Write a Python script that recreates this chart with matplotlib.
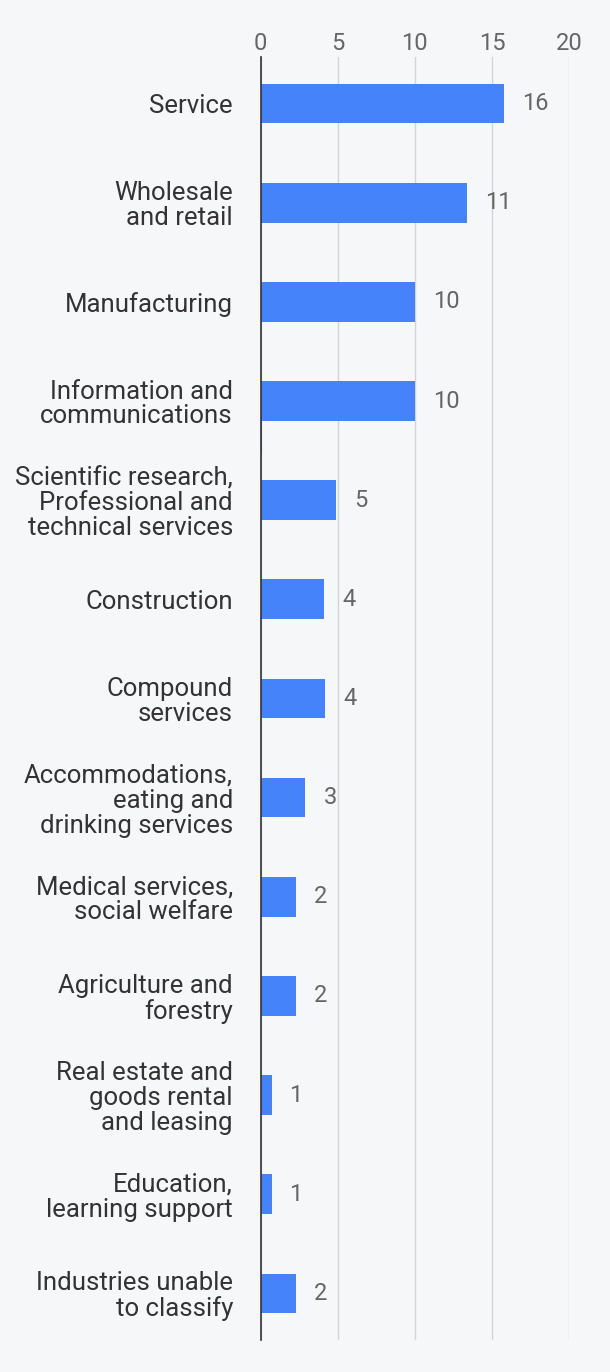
import matplotlib.pyplot as plt
import numpy as np

categories = [
    "Service",
    "Wholesale\nand retail",
    "Manufacturing",
    "Information and\ncommunications",
    "Scientific research,\nProfessional and\ntechnical services",
    "Construction",
    "Compound\nservices",
    "Accommodations,\neating and\ndrinking services",
    "Medical services,\nsocial welfare",
    "Agriculture and\nforestry",
    "Real estate and\ngoods rental\nand leasing",
    "Education,\nlearning support",
    "Industries unable\nto classify",
]
values = [15.8, 13.4, 10.0, 10.0, 4.9, 4.1, 4.2, 2.9, 2.3, 2.3, 0.7, 0.7, 2.3]
value_labels = ["16", "11", "10", "10", "5", "4", "4", "3", "2", "2", "1", "1", "2"]
# tiny sliver seen just below the "Information and communications" bar
extra = [0, 0, 0, 0.1, 0, 0, 0, 0, 0, 0, 0, 0, 0]
xticks = [0, 5, 10, 15, 20]

bg = "#f6f7f9"
blue = "#4583fb"
font = "Roboto"

fig = plt.figure(figsize=(6.1, 13.72), dpi=100, facecolor=bg)
ax = fig.add_axes([0.4274, 0.0233, 0.5054, 0.9352], facecolor=bg)

y = np.arange(len(categories))
bars = ax.barh(y, values, height=0.4, color=blue, zorder=3)
ax.barh(y + 0.36, extra, height=0.33, color=blue, zorder=3)

for rect, lab in zip(bars, value_labels):
    ax.annotate(lab, (rect.get_width(), rect.get_y() + rect.get_height() / 2),
                xytext=(13, 0), textcoords="offset points", va="center", ha="left",
                fontsize=17, color="#666666", family=font)

ax.set_xlim(0, 20)
ax.set_ylim(len(categories) - 0.53, -0.47)
ax.set_xticks(xticks)
ax.xaxis.tick_top()
ax.tick_params(axis="x", length=0, pad=1.5, labelsize=17, labelcolor="#666666")
for t in ax.get_xticklabels():
    t.set_family(font)

ax.set_yticks(y)
ax.set_yticklabels(categories, fontsize=18.5, color="#333333", family=font,
                   linespacing=1.05)
ax.tick_params(axis="y", length=0, pad=20)

ax.grid(axis="x", color="#d4d4d4", linewidth=1, zorder=0)
for s in ["top", "right", "bottom"]:
    ax.spines[s].set_visible(False)
ax.spines["left"].set_color("#333333")
ax.spines["left"].set_linewidth(1.2)
ax.spines["left"].set_zorder(4)

plt.savefig("out.png", dpi=100, facecolor=bg)
